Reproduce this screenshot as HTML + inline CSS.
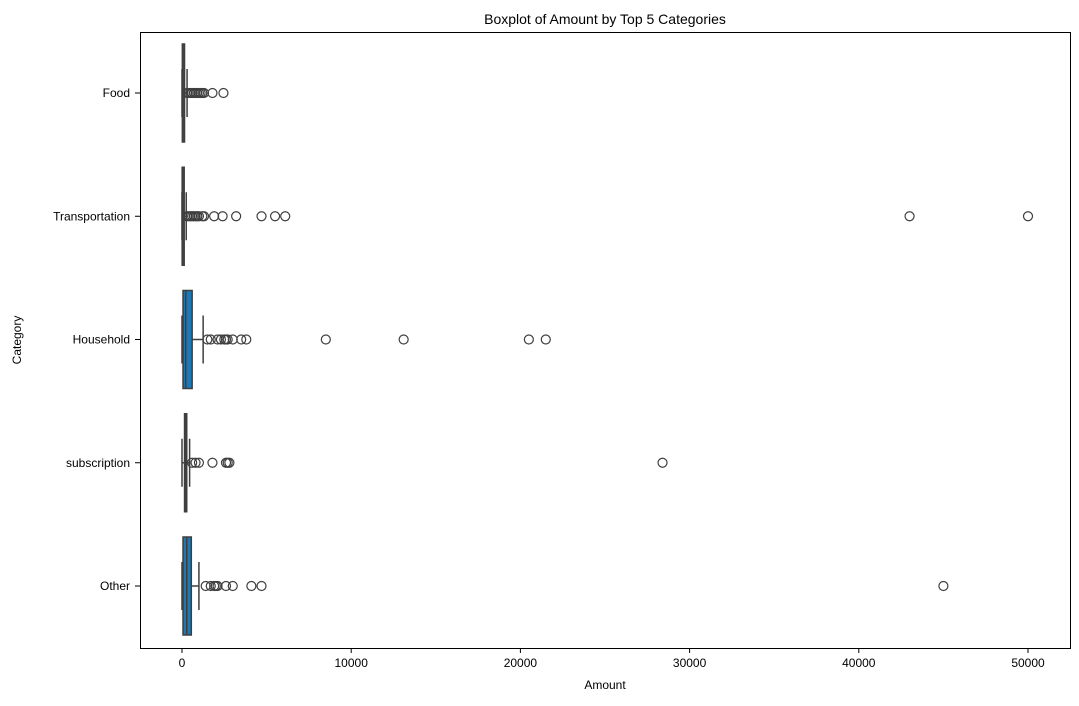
<!DOCTYPE html>
<html><head><meta charset="utf-8"><style>
body{margin:0;background:#fff;font-family:"Liberation Sans","DejaVu Sans",sans-serif}
</style></head><body>
<svg id="c" width="1079" height="701" xmlns="http://www.w3.org/2000/svg" font-family="Liberation Sans, DejaVu Sans, sans-serif">
<text x="605" y="24" text-anchor="middle" font-size="14" fill="#000">Boxplot of Amount by Top 5 Categories</text>
<text x="605" y="689" text-anchor="middle" font-size="12">Amount</text>
<text x="21" y="340" text-anchor="middle" font-size="12" transform="rotate(-90 21 340)">Category</text>
<g id="plot"></g>
<rect x="140.5" y="32.5" width="930" height="616" fill="none" stroke="#000" stroke-width="1"/>
</svg>
<script>
const categories=["Food","Transportation","Household","subscription","Other"];
const q1=[20,10,60,150,60];
const medians=[60,40,220,220,280];
const q3=[150,130,600,280,550];
const whiskerLo=[0,0,0,0,0];
const whiskerHi=[300,250,1250,450,1000];
const outliers=[
[300,400,500,600,700,800,900,1000,1100,1200,1300,1800,2450],
[300,400,500,600,700,800,900,1000,1200,1300,1900,2400,3200,4700,5500,6100,43000,50000],
[1500,1700,2100,2300,2500,2600,2700,3000,3500,3800,8500,13100,20500,21500],
[600,800,1000,1800,2600,2700,2800,28400],
[1400,1700,1900,2000,2100,2600,3000,4100,4700,45000]];
const xTicks=[0,10000,20000,30000,40000,50000];
const fills=["#1f77b4","#1f77b4","#1f77b4","#1f77b4","#1f77b4"];
const NS="http://www.w3.org/2000/svg";
const g=document.getElementById('plot');
const X=v=>182+v*0.016920;
const Y=i=>93+i*123.25;
function mk(t,a){const e=document.createElementNS(NS,t);for(const k in a)e.setAttribute(k,a[k]);g.appendChild(e);return e;}
xTicks.forEach(t=>{
 const l=mk('line',{x1:X(t),x2:X(t),y1:648,y2:653,stroke:'#000'});
 
 
 const tx=mk('text',{x:X(t),y:667,'text-anchor':'middle','font-size':12});tx.textContent=t;
 
 
});
categories.forEach((c,i)=>{
 const y=Y(i),h=98,cap=24,col='#3f3f3f';
 const tk=mk('line',{x1:135,x2:140,y1:y,y2:y,stroke:'#000'});
 
 
 const tl=mk('text',{x:130,y:y+4,'text-anchor':'end','font-size':12});tl.textContent=c;
 
 
 const w1=mk('line',{x1:X(whiskerLo[i]),x2:X(q1[i]),y1:y,y2:y,stroke:col,'stroke-width':1.5});
 
 
 const w2=mk('line',{x1:X(q3[i]),x2:X(whiskerHi[i]),y1:y,y2:y,stroke:col,'stroke-width':1.5});
 
 
 [whiskerLo[i],whiskerHi[i]].forEach(v=>{const cp=mk('line',{x1:X(v),x2:X(v),y1:y-cap,y2:y+cap,stroke:col,'stroke-width':1.5});
  
  });
 const b=mk('rect',{x:X(q1[i]),y:y-h/2,width:Math.max(X(q3[i])-X(q1[i]),1),height:h,fill:fills[i],stroke:col,'stroke-width':1.5});
 
 
 const m=mk('line',{x1:X(medians[i]),x2:X(medians[i]),y1:y-h/2,y2:y+h/2,stroke:col,'stroke-width':1.5});
 
 
 outliers[i].forEach(v=>{const o=mk('circle',{cx:X(v),cy:y,r:4.5,fill:'none',stroke:col,'stroke-width':1.2});
  
  });
});
</script>
</body></html>
